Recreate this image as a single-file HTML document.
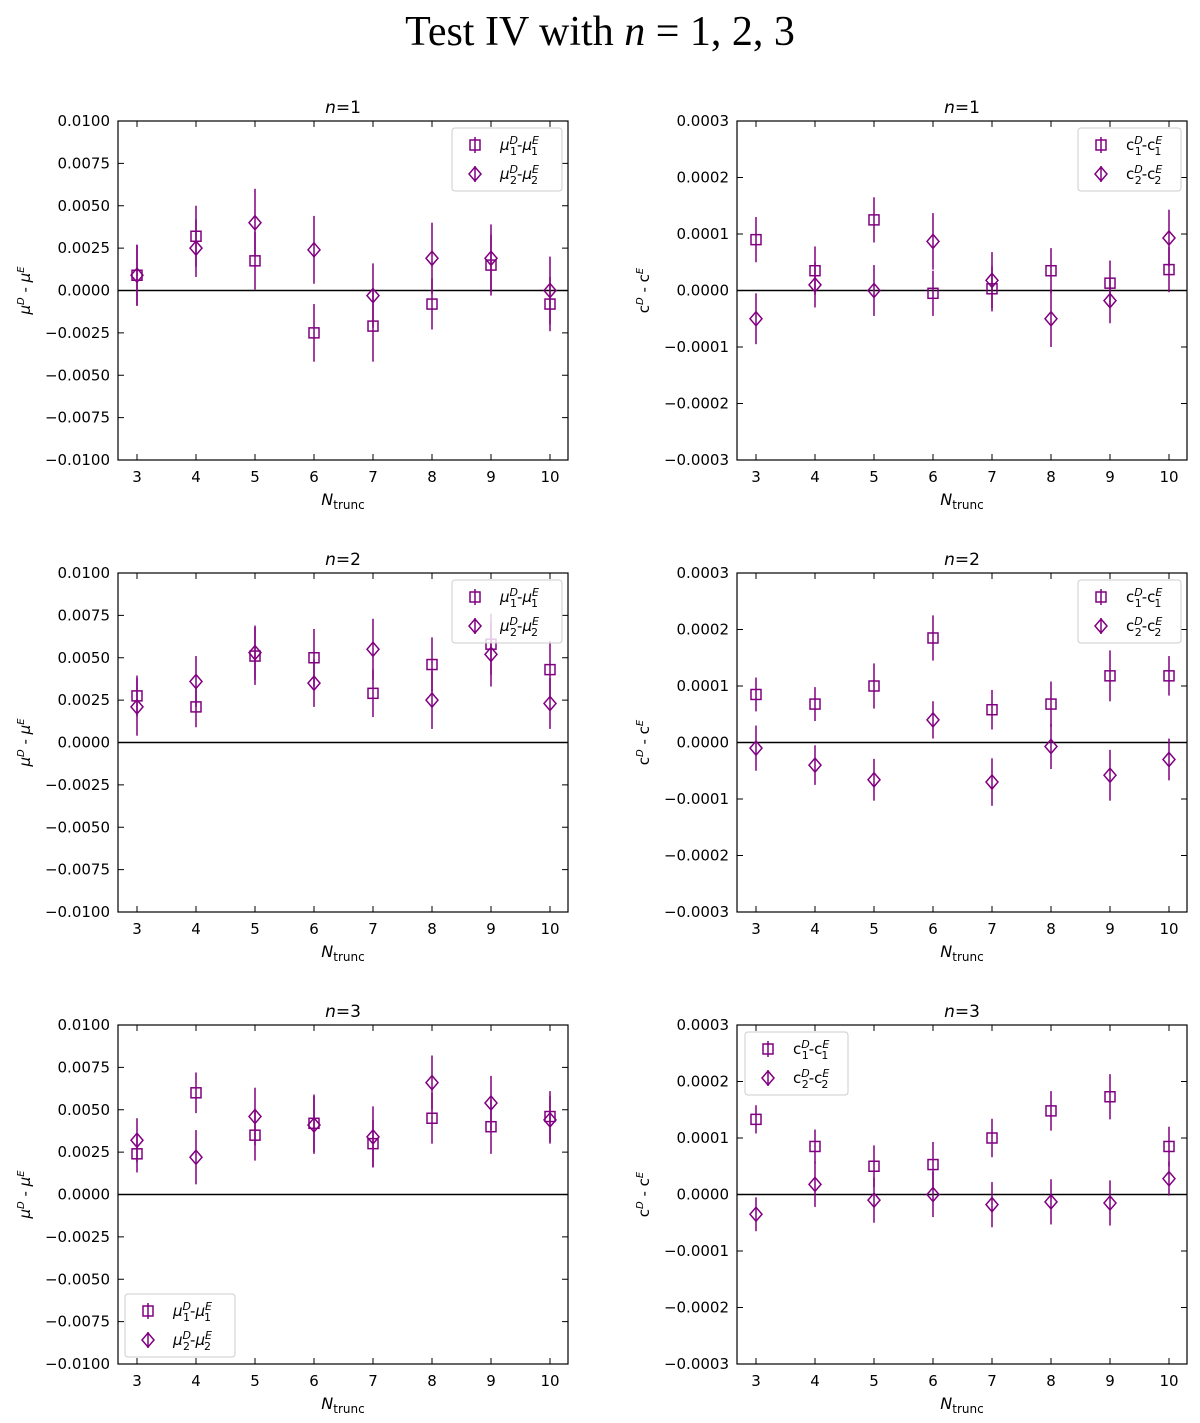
<!DOCTYPE html>
<html><head><meta charset="utf-8"><style>
html,body{margin:0;padding:0;background:#fff}
svg text{font-family:"DejaVu Sans","Liberation Sans",sans-serif}
</style></head><body>
<svg id="fig" width="1200" height="1418" xmlns="http://www.w3.org/2000/svg">
<text x="600" y="45" text-anchor="middle" font-size="42" style="font-family:'Liberation Serif',serif">Test IV with <tspan font-style="italic">n</tspan> = 1, 2, 3</text>
</svg>
<script>
const nTrunc = [3,4,5,6,7,8,9,10];
const muTicks = [0.01,0.0075,0.005,0.0025,0,-0.0025,-0.005,-0.0075,-0.01];
const muTickLabels = ["0.0100","0.0075","0.0050","0.0025","0.0000","\u22120.0025","\u22120.0050","\u22120.0075","\u22120.0100"];
const cTicks = [0.0003,0.0002,0.0001,0,-0.0001,-0.0002,-0.0003];
const cTickLabels = ["0.0003","0.0002","0.0001","0.0000","\u22120.0001","\u22120.0002","\u22120.0003"];

const mu1_n1 = [0.0009,0.0032,0.00175,-0.0025,-0.0021,-0.0008,0.0015,-0.0008];
const mu1err_n1 = [0.0018,0.0018,0.0017,0.0017,0.0021,0.0015,0.0018,0.0016];
const mu2_n1 = [0.0009,0.0025,0.0040,0.0024,-0.0003,0.0019,0.0019,0.0000];
const mu2err_n1 = [0.0018,0.0017,0.0020,0.0020,0.0019,0.0021,0.0020,0.0020];
const c1_n1 = [0.00009,0.000035,0.000125,-0.000005,0.000003,0.000035,0.000013,0.000037];
const c1err_n1 = [0.00004,0.000043,0.00004,0.00004,0.00004,0.00004,0.00004,0.00004];
const c2_n1 = [-0.00005,0.00001,0.0,0.000087,0.000018,-0.00005,-0.000018,0.000093];
const c2err_n1 = [0.000045,0.00004,0.000045,0.00005,0.00005,0.00005,0.00004,0.00005];

const mu1_n2 = [0.00275,0.0021,0.0051,0.0050,0.0029,0.0046,0.0058,0.0043];
const mu1err_n2 = [0.0012,0.0012,0.0017,0.0017,0.0014,0.0016,0.0018,0.0017];
const mu2_n2 = [0.0021,0.0036,0.0053,0.0035,0.0055,0.0025,0.0052,0.0023];
const mu2err_n2 = [0.0017,0.0015,0.0016,0.0014,0.0018,0.0017,0.0019,0.0015];
const c1_n2 = [0.000085,0.000068,0.0001,0.000185,0.000058,0.000068,0.000118,0.000118];
const c1err_n2 = [0.00003,0.00003,0.00004,0.00004,0.000035,0.00004,0.000045,0.000035];
const c2_n2 = [-0.00001,-0.00004,-0.000066,0.00004,-0.00007,-0.000007,-0.000058,-0.00003];
const c2err_n2 = [0.00004,0.000035,0.000037,0.000033,0.000042,0.00004,0.000045,0.000037];

const mu1_n3 = [0.0024,0.0060,0.0035,0.0042,0.0030,0.0045,0.0040,0.0046];
const mu1err_n3 = [0.0011,0.0012,0.0015,0.0017,0.0014,0.0015,0.0016,0.0015];
const mu2_n3 = [0.0032,0.0022,0.0046,0.0041,0.0034,0.0066,0.0054,0.0044];
const mu2err_n3 = [0.0013,0.0016,0.0017,0.0017,0.0018,0.0016,0.0016,0.0014];
const c1_n3 = [0.000133,0.000085,0.00005,0.000053,0.0001,0.000148,0.000173,0.000085];
const c1err_n3 = [0.000025,0.00003,0.000037,0.00004,0.000034,0.000035,0.00004,0.000035];
const c2_n3 = [-0.000035,0.000018,-0.00001,0.0,-0.000018,-0.000013,-0.000015,0.000028];
const c2err_n3 = [0.00003,0.00004,0.00004,0.00004,0.00004,0.00004,0.00004,0.00003];

const NS="http://www.w3.org/2000/svg";
const svg=document.getElementById('fig');
const COL="#800080";
function mk(tag,attrs,parent){const e=document.createElementNS(NS,tag);for(const k in attrs)e.setAttribute(k,attrs[k]);(parent||svg).appendChild(e);return e;}

function panel(id,x0,y0,n,ticks,tickLabels,ymax,s1,e1,s2,e2,isMu,legendPos){
  const W=450,H=339,x1=x0+W,y1=y0+H;
  const g=mk('g',{});
  
  
  const xs=v=>x0+19+(v-3)*59;
  const ys=v=>y0+H/2-v/ymax*(H/2);
  const t=mk('text',{x:(x0+x1)/2,y:y0-8,'text-anchor':'middle','font-size':17},g);
  
  
  t.innerHTML='<tspan font-style="italic">n</tspan>=' + n;
  const z=mk('line',{x1:x0,x2:x1,y1:ys(0),y2:ys(0),stroke:'#000','stroke-width':1.5},g);
  
  
  ticks.forEach((v,i)=>{
    const y=ys(v);
    mk('line',{x1:x0,x2:x0+6,y1:y,y2:y,stroke:'#000','stroke-width':1},g);
    mk('line',{x1:x1,x2:x1-6,y1:y,y2:y,stroke:'#000','stroke-width':1},g);
    const l=mk('text',{x:x0-8,y:y+5,'text-anchor':'end','font-size':15},g);
    
    
    l.textContent=tickLabels[i];
  });
  nTrunc.forEach(v=>{
    const x=xs(v);
    mk('line',{x1:x,x2:x,y1:y1,y2:y1-6,stroke:'#000','stroke-width':1},g);
    mk('line',{x1:x,x2:x,y1:y0,y2:y0+6,stroke:'#000','stroke-width':1},g);
    const l=mk('text',{x:x,y:y1+22,'text-anchor':'middle','font-size':15},g);
    
    
    l.textContent=v;
  });
  const xl=mk('text',{x:(x0+x1)/2,y:y1+45,'text-anchor':'middle','font-size':16},g);
  
  
  xl.innerHTML='<tspan font-style="italic">N</tspan><tspan font-size="12" dy="4">trunc</tspan>';
  const yl=mk('text',{transform:`translate(${x0-88},${(y0+y1)/2}) rotate(-90)`,'text-anchor':'middle','font-size':15},g);
  
  
  yl.innerHTML=isMu?'<tspan font-style="italic">μ</tspan><tspan font-size="10" dy="-6" font-style="italic">D</tspan><tspan dy="6"> - </tspan><tspan font-style="italic">μ</tspan><tspan font-size="10" dy="-6" font-style="italic">E</tspan>'
    :'c<tspan font-size="10" dy="-6" font-style="italic">D</tspan><tspan dy="6"> - c</tspan><tspan font-size="10" dy="-6" font-style="italic">E</tspan>';
  function sq(x,y,par){return mk('rect',{x:x-5,y:y-5,width:10,height:10,fill:'none',stroke:COL,'stroke-width':1.5},par);}
  function dm(x,y,par){return mk('polygon',{points:`${x},${y-7} ${x+6},${y} ${x},${y+7} ${x-6},${y}`,fill:'none',stroke:COL,'stroke-width':1.5},par);}
  nTrunc.forEach((v,i)=>{
    const x=xs(v);
    const b=mk('line',{x1:x,x2:x,y1:ys(s1[i]-e1[i]),y2:ys(s1[i]+e1[i]),stroke:COL,'stroke-width':1.5},g);
    
    
    const m=sq(x,ys(s1[i]),g);
    
    
    const b2=mk('line',{x1:x,x2:x,y1:ys(s2[i]-e2[i]),y2:ys(s2[i]+e2[i]),stroke:COL,'stroke-width':1.5},g);
    
    
    const m2=dm(x,ys(s2[i]),g);
    
    
  });
  mk('rect',{x:x0,y:y0,width:W,height:H,fill:'none',stroke:'#000','stroke-width':1.2},g);
  const lw=isMu?110:103, lh=63;
  let lx,ly;
  if(legendPos==='tr'){lx=x1-lw-6;ly=y0+7;}
  else if(legendPos==='tl'){lx=x0+8;ly=y0+7;}
  else {lx=x0+7;ly=y1-lh-7;}
  const lg=mk('g',{},g);
  
  
  mk('rect',{x:lx,y:ly,width:lw,height:lh,rx:3,fill:'#fff','fill-opacity':0.8,stroke:'#ccc'},lg);
  [0,1].forEach(k=>{
    const cy=ly+17+k*29, cx=lx+23;
    mk('line',{x1:cx,x2:cx,y1:cy-8,y2:cy+8,stroke:COL,'stroke-width':1.5},lg);
    if(k===0)sq(cx,cy,lg);else dm(cx,cy,lg);
    const tx=mk('text',{x:lx+48,y:cy+5,'font-size':15},lg);
    
    
    const s=k+1;
    tx.innerHTML=isMu?`<tspan font-style="italic">μ</tspan><tspan font-size="11" dy="-6" font-style="italic">D</tspan><tspan font-size="11" dx="-8" dy="11">${s}</tspan><tspan dy="-5">-</tspan><tspan font-style="italic">μ</tspan><tspan font-size="11" dy="-6" font-style="italic">E</tspan><tspan font-size="11" dx="-8" dy="11">${s}</tspan>`
      :`c<tspan font-size="11" dy="-6" font-style="italic">D</tspan><tspan font-size="11" dx="-8" dy="11">${s}</tspan><tspan dy="-5">-c</tspan><tspan font-size="11" dy="-6" font-style="italic">E</tspan><tspan font-size="11" dx="-8" dy="11">${s}</tspan>`;
  });
}
panel('panel-mu-n1',118,121,1,muTicks,muTickLabels,0.01,mu1_n1,mu1err_n1,mu2_n1,mu2err_n1,true,'tr');
panel('panel-c-n1',737,121,1,cTicks,cTickLabels,0.0003,c1_n1,c1err_n1,c2_n1,c2err_n1,false,'tr');
panel('panel-mu-n2',118,573,2,muTicks,muTickLabels,0.01,mu1_n2,mu1err_n2,mu2_n2,mu2err_n2,true,'tr');
panel('panel-c-n2',737,573,2,cTicks,cTickLabels,0.0003,c1_n2,c1err_n2,c2_n2,c2err_n2,false,'tr');
panel('panel-mu-n3',118,1025,3,muTicks,muTickLabels,0.01,mu1_n3,mu1err_n3,mu2_n3,mu2err_n3,true,'bl');
panel('panel-c-n3',737,1025,3,cTicks,cTickLabels,0.0003,c1_n3,c1err_n3,c2_n3,c2err_n3,false,'tl');
</script>
</body></html>
